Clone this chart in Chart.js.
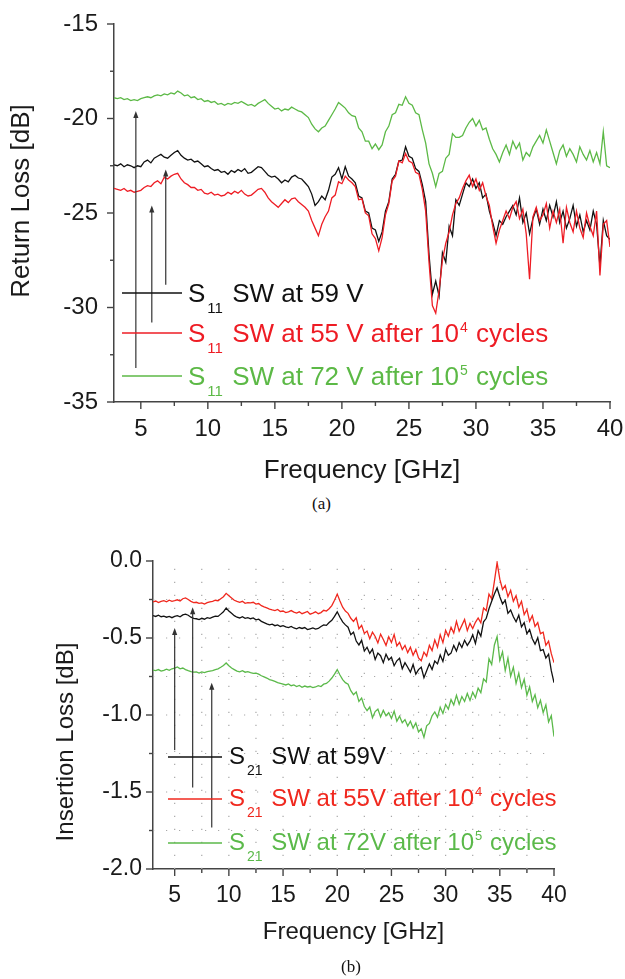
<!DOCTYPE html>
<html>
<head>
<meta charset="utf-8">
<script src="https://cdn.jsdelivr.net/npm/chart.js@4.4.0/dist/chart.umd.min.js"></script>
<style>
body { margin: 0; background: #fff; width: 625px; height: 979px; position: relative; overflow: hidden; }
.box { position: absolute; left: 0; width: 625px; }
#boxA { top: 0; height: 490px; }
#boxB { top: 520px; height: 440px; }
.cap { position: absolute; font-family: "Liberation Serif", "Times New Roman", serif; font-size: 17px; color: #111; }
</style>
</head>
<body>
<div class="box" id="boxA"><canvas id="chartA"></canvas></div>
<div class="cap" style="left:312px;top:494px">(a)</div>
<div class="box" id="boxB"><canvas id="chartB"></canvas></div>
<div class="cap" style="left:341px;top:957px">(b)</div>
<script>
//measured curves, sampled every 0.25 GHz from 3 GHz

var freqStart = 3, freqStep = 0.25;

// (a) return loss [dB]
var s11_59V = [
 -22.45,-22.50,-22.40,-22.55,-22.45,-22.50,-22.60,-22.50,
 -22.55,-22.30,-22.20,-22.35,-22.10,-22.00,-21.90,-22.05,
 -22.10,-21.95,-21.80,-21.70,-21.95,-22.10,-22.20,-22.15,
 -22.30,-22.25,-22.40,-22.55,-22.50,-22.65,-22.75,-22.70,
 -22.85,-22.80,-22.95,-22.75,-22.85,-22.70,-22.80,-22.65,
 -22.90,-22.85,-22.70,-22.55,-22.60,-22.80,-23.00,-23.10,
 -23.05,-23.20,-23.40,-23.25,-23.35,-23.10,-23.00,-23.15,
 -23.20,-23.40,-23.60,-24.00,-24.60,-24.40,-24.10,-24.30,
 -23.80,-23.10,-22.95,-22.60,-23.20,-22.55,-23.05,-23.20,
 -23.40,-24.10,-24.20,-24.90,-25.00,-25.80,-25.90,-26.50,
 -26.00,-24.90,-24.40,-23.20,-22.95,-22.25,-22.20,-21.50,
 -22.00,-22.10,-22.65,-22.80,-23.50,-24.40,-27.20,-29.30,
 -28.60,-29.40,-27.10,-27.60,-25.70,-26.20,-24.30,-24.60,
 -24.00,-23.40,-23.60,-23.20,-23.70,-23.40,-24.20,-24.00,
 -24.90,-25.50,-26.20,-25.40,-25.60,-25.20,-24.90,-24.60,
 -25.10,-24.20,-25.50,-25.00,-26.10,-25.30,-24.80,-25.60,
 -24.80,-25.40,-24.60,-25.20,-24.40,-25.50,-24.90,-25.80,
 -25.30,-24.60,-25.70,-25.10,-26.00,-25.40,-25.90,-24.90,
 -25.60,-27.80,-25.40,-26.20,-26.40
];
var s11_55V = [
 -23.70,-23.75,-23.80,-23.70,-23.85,-23.80,-23.90,-23.85,
 -23.80,-23.65,-23.55,-23.60,-23.40,-23.30,-23.45,-23.10,
 -23.20,-23.05,-22.95,-22.90,-23.20,-23.40,-23.50,-23.65,
 -23.65,-23.80,-23.75,-23.95,-24.00,-23.90,-24.05,-24.00,
 -24.10,-24.05,-23.90,-24.00,-23.85,-23.95,-23.80,-24.00,
 -24.10,-24.05,-23.90,-23.75,-23.70,-23.90,-24.20,-24.40,
 -24.55,-24.70,-24.50,-24.30,-24.45,-24.25,-24.20,-24.40,
 -24.55,-24.70,-24.90,-25.40,-25.80,-26.20,-25.60,-25.20,
 -24.90,-24.20,-24.05,-23.35,-23.45,-23.05,-23.25,-23.40,
 -23.60,-24.30,-24.25,-25.00,-25.15,-26.10,-26.35,-27.00,
 -26.30,-25.10,-24.50,-23.30,-23.05,-22.25,-22.35,-21.85,
 -22.25,-22.35,-22.85,-22.95,-23.75,-24.90,-27.60,-29.90,
 -30.30,-29.10,-27.50,-26.60,-26.00,-25.10,-24.50,-24.20,
 -23.70,-23.30,-23.00,-23.60,-23.20,-23.80,-23.40,-24.10,
 -24.60,-25.70,-26.60,-25.90,-25.40,-24.90,-25.30,-24.70,
 -24.40,-25.30,-24.80,-26.10,-28.50,-25.20,-24.70,-25.40,
 -25.10,-24.50,-25.80,-24.90,-25.50,-24.80,-26.60,-24.70,
 -25.50,-26.00,-24.90,-25.80,-26.30,-25.00,-25.70,-26.20,
 -24.90,-28.30,-25.60,-25.40,-26.80
];
var s11_72V = [
 -18.90,-18.95,-18.90,-19.00,-18.95,-19.05,-19.00,-19.05,
 -18.95,-18.90,-18.85,-18.90,-18.80,-18.75,-18.80,-18.70,
 -18.75,-18.65,-18.70,-18.55,-18.65,-18.80,-18.75,-18.90,
 -18.85,-19.00,-18.95,-19.10,-19.05,-19.15,-19.10,-19.25,
 -19.20,-19.30,-19.20,-19.25,-19.15,-19.20,-19.10,-19.20,
 -19.30,-19.25,-19.35,-19.20,-19.10,-19.00,-19.20,-19.35,
 -19.50,-19.45,-19.60,-19.50,-19.55,-19.40,-19.50,-19.60,
 -19.65,-19.80,-19.95,-20.30,-20.55,-20.70,-20.50,-20.40,
 -20.10,-19.80,-19.50,-19.15,-19.30,-19.45,-19.70,-19.85,
 -19.90,-20.50,-20.70,-21.20,-21.20,-21.60,-21.35,-21.65,
 -21.40,-20.70,-20.40,-19.80,-19.70,-19.25,-19.30,-18.85,
 -19.20,-19.30,-19.70,-19.80,-20.60,-21.30,-22.40,-22.90,
 -23.60,-22.90,-22.80,-22.10,-21.90,-20.80,-21.00,-21.00,
 -20.90,-20.50,-20.20,-20.00,-20.40,-20.10,-20.60,-20.50,
 -21.10,-21.60,-21.90,-22.30,-21.80,-21.40,-21.90,-21.20,
 -21.60,-21.30,-22.20,-21.80,-22.00,-21.50,-21.20,-20.90,
 -21.30,-20.60,-21.20,-21.80,-22.40,-21.70,-21.40,-22.00,
 -21.60,-21.90,-22.30,-21.50,-21.90,-22.20,-21.70,-22.30,
 -21.80,-22.40,-20.70,-22.50,-22.60
];

// (b) insertion loss [dB]
var s21_59V = [
 -0.355,-0.360,-0.352,-0.362,-0.358,-0.365,-0.360,-0.368,
 -0.360,-0.355,-0.362,-0.350,-0.345,-0.352,-0.365,-0.372,
 -0.375,-0.380,-0.372,-0.378,-0.368,-0.372,-0.365,-0.358,
 -0.360,-0.345,-0.330,-0.305,-0.325,-0.340,-0.355,-0.365,
 -0.370,-0.362,-0.372,-0.368,-0.375,-0.370,-0.382,-0.378,
 -0.392,-0.400,-0.408,-0.415,-0.410,-0.420,-0.415,-0.425,
 -0.420,-0.428,-0.432,-0.425,-0.435,-0.440,-0.432,-0.438,
 -0.432,-0.445,-0.440,-0.435,-0.442,-0.438,-0.425,-0.415,
 -0.418,-0.400,-0.385,-0.360,-0.330,-0.365,-0.395,-0.415,
 -0.430,-0.478,-0.462,-0.520,-0.545,-0.515,-0.585,-0.560,
 -0.600,-0.572,-0.640,-0.598,-0.615,-0.660,-0.605,-0.642,
 -0.625,-0.680,-0.648,-0.632,-0.700,-0.660,-0.690,-0.722,
 -0.672,-0.735,-0.705,-0.690,-0.758,-0.712,-0.668,-0.705,
 -0.650,-0.668,-0.610,-0.652,-0.575,-0.612,-0.598,-0.548,
 -0.585,-0.530,-0.562,-0.515,-0.548,-0.520,-0.480,-0.535,
 -0.452,-0.488,-0.395,-0.372,-0.310,-0.262,-0.215,-0.175,
 -0.232,-0.278,-0.255,-0.340,-0.318,-0.362,-0.395,-0.352,
 -0.428,-0.400,-0.472,-0.445,-0.505,-0.540,-0.498,-0.582,
 -0.575,-0.630,-0.605,-0.712,-0.790
];
var s21_55V = [
 -0.265,-0.260,-0.270,-0.262,-0.258,-0.265,-0.255,-0.262,
 -0.258,-0.252,-0.260,-0.245,-0.240,-0.250,-0.262,-0.270,
 -0.268,-0.275,-0.272,-0.280,-0.270,-0.265,-0.262,-0.255,
 -0.258,-0.245,-0.232,-0.210,-0.225,-0.240,-0.255,-0.262,
 -0.268,-0.262,-0.275,-0.270,-0.272,-0.268,-0.280,-0.276,
 -0.290,-0.298,-0.305,-0.312,-0.318,-0.322,-0.315,-0.328,
 -0.325,-0.335,-0.330,-0.322,-0.332,-0.338,-0.330,-0.342,
 -0.335,-0.328,-0.345,-0.338,-0.330,-0.342,-0.335,-0.320,
 -0.325,-0.310,-0.290,-0.255,-0.215,-0.260,-0.300,-0.325,
 -0.340,-0.372,-0.392,-0.368,-0.440,-0.418,-0.470,-0.455,
 -0.505,-0.462,-0.490,-0.532,-0.475,-0.510,-0.548,-0.492,
 -0.530,-0.478,-0.552,-0.528,-0.575,-0.548,-0.595,-0.560,
 -0.612,-0.575,-0.630,-0.648,-0.592,-0.618,-0.548,-0.582,
 -0.512,-0.560,-0.478,-0.530,-0.450,-0.488,-0.430,-0.468,
 -0.392,-0.455,-0.418,-0.380,-0.452,-0.405,-0.438,-0.398,
 -0.370,-0.402,-0.305,-0.322,-0.215,-0.245,-0.132,-0.010,
 -0.118,-0.185,-0.160,-0.232,-0.190,-0.262,-0.225,-0.300,
 -0.262,-0.348,-0.315,-0.392,-0.355,-0.425,-0.400,-0.472,
 -0.462,-0.548,-0.520,-0.602,-0.660
];
var s21_72V = [
 -0.708,-0.712,-0.705,-0.715,-0.710,-0.702,-0.710,-0.700,
 -0.695,-0.688,-0.700,-0.695,-0.705,-0.712,-0.718,-0.722,
 -0.720,-0.728,-0.720,-0.725,-0.718,-0.715,-0.712,-0.705,
 -0.700,-0.690,-0.678,-0.662,-0.680,-0.695,-0.705,-0.715,
 -0.720,-0.712,-0.722,-0.718,-0.725,-0.730,-0.728,-0.735,
 -0.745,-0.752,-0.760,-0.770,-0.775,-0.782,-0.790,-0.795,
 -0.800,-0.805,-0.798,-0.810,-0.805,-0.815,-0.808,-0.820,
 -0.812,-0.818,-0.815,-0.822,-0.818,-0.810,-0.815,-0.800,
 -0.795,-0.780,-0.760,-0.735,-0.705,-0.740,-0.770,-0.790,
 -0.800,-0.842,-0.868,-0.850,-0.912,-0.890,-0.945,-0.972,
 -0.948,-1.018,-0.978,-0.962,-1.012,-0.970,-1.005,-0.985,
 -1.022,-0.975,-1.040,-1.008,-1.050,-1.030,-1.072,-1.040,
 -1.085,-1.052,-1.110,-1.090,-1.145,-1.070,-1.055,-1.005,
 -0.980,-1.015,-0.950,-0.990,-0.932,-0.962,-0.900,-0.935,
 -0.872,-0.930,-0.880,-0.912,-0.860,-0.905,-0.852,-0.888,
 -0.825,-0.855,-0.765,-0.785,-0.635,-0.672,-0.545,-0.490,
 -0.645,-0.590,-0.712,-0.630,-0.748,-0.690,-0.795,-0.728,
 -0.822,-0.768,-0.872,-0.818,-0.912,-0.868,-0.952,-0.905,
 -0.985,-0.935,-1.045,-1.005,-1.140
];

// axis ticks (major labelled, minor in between)
var freqTicks = [5, 10, 15, 20, 25, 30, 35, 40];
var rlTicks = [-35, -30, -25, -20, -15];
var ilTicks = [-2.0, -1.5, -1.0, -0.5, 0.0];

// arrows: [freq, from, to]
var arrowsA = [[4.63, -33.2, -19.6], [5.82, -30.8, -24.6], [6.86, -28.8, -22.7]];
var arrowsB = [[5.0, -1.227, -0.435], [6.66, -1.47, -0.30], [8.42, -1.73, -0.79]];

// legend entries: [text, kind]
var legendA = [
  [['S', ''], ['11', 'sub'], [' SW at 59 V', '']],
  [['S', ''], ['11', 'sub'], [' SW at 55 V after 10', ''], ['4', 'sup'], [' cycles', '']],
  [['S', ''], ['11', 'sub'], [' SW at 72 V after 10', ''], ['5', 'sup'], [' cycles', '']]
];
var legendB = [
  [['S', ''], ['21', 'sub'], [' SW at 59V', '']],
  [['S', ''], ['21', 'sub'], [' SW at 55V after 10', ''], ['4', 'sup'], [' cycles', '']],
  [['S', ''], ['21', 'sub'], [' SW at 72V after 10', ''], ['5', 'sup'], [' cycles', '']]
];

var freq = s11_59V.map(function (v, i) { return freqStart + i * freqStep; });
function pts(arr) { return arr.map(function (v, i) { return { x: freq[i], y: v }; }); }

function isMajor(v, step) { var q = v / step; return Math.abs(q - Math.round(q)) < 1e-6; }

// majors plus the half-way minors
function withMinors(major, lo) {
  var out = [];
  var half = (major[1] - major[0]) / 2;
  if (major[0] - half >= lo) out.push(major[0] - half);
  major.forEach(function (v, i) {
    out.push(v);
    if (i < major.length - 1) out.push(v + half);
  });
  return out;
}

var FONT = '"Liberation Sans", Arial, sans-serif';

// tick marks, dotted grid, arrows, y title and the legend
var decor = {
  id: 'decor',
  beforeDatasetsDraw: function (chart, args, o) {
    if (!o.grid) return;
    var ctx = chart.ctx, a = chart.chartArea, xs = chart.scales.x, ys = chart.scales.y;
    ctx.save();
    ctx.strokeStyle = '#a8a8a8';
    ctx.lineWidth = 1.2;
    ctx.setLineDash([1.2, 11.8]);
    xs.ticks.forEach(function (t) {
      var p = xs.getPixelForValue(t.value);
      if (p <= a.left + 1 || p >= a.right - 1) return;
      ctx.beginPath(); ctx.moveTo(p, a.bottom); ctx.lineTo(p, a.top); ctx.stroke();
    });
    ys.ticks.forEach(function (t) {
      var p = ys.getPixelForValue(t.value);
      if (p <= a.top + 1 || p >= a.bottom - 1) return;
      ctx.beginPath(); ctx.moveTo(a.left, p); ctx.lineTo(a.right, p); ctx.stroke();
    });
    ctx.restore();
  },
  afterDraw: function (chart, args, o) {
    var ctx = chart.ctx, a = chart.chartArea, xs = chart.scales.x, ys = chart.scales.y;
    ctx.save();
    ctx.strokeStyle = '#444';
    ctx.lineWidth = 1.4;
    xs.ticks.forEach(function (t) {
      var p = xs.getPixelForValue(t.value);
      var len = isMajor(t.value, o.xMajor) ? 7 : 4;
      ctx.beginPath(); ctx.moveTo(p, a.bottom); ctx.lineTo(p, a.bottom + len); ctx.stroke();
    });
    ys.ticks.forEach(function (t) {
      var p = ys.getPixelForValue(t.value);
      var len = isMajor(t.value, o.yMajor) ? 7 : 4;
      ctx.beginPath(); ctx.moveTo(a.left, p); ctx.lineTo(a.left - len, p); ctx.stroke();
    });

    // y axis title
    ctx.save();
    ctx.translate(o.yTitle.x, o.yTitle.y);
    ctx.rotate(-Math.PI / 2);
    ctx.fillStyle = '#1a1a1a';
    ctx.font = o.yTitle.size + 'px ' + FONT;
    ctx.textAlign = 'center';
    ctx.textBaseline = 'middle';
    ctx.fillText(o.yTitle.text, 0, 0);
    ctx.restore();

    // arrows
    ctx.strokeStyle = '#333';
    ctx.fillStyle = '#333';
    ctx.lineWidth = 1.2;
    o.arrows.forEach(function (ar) {
      var x = xs.getPixelForValue(ar[0]);
      var y0 = ys.getPixelForValue(ar[1]);
      var y1 = ys.getPixelForValue(ar[2]);
      ctx.beginPath(); ctx.moveTo(x, y0); ctx.lineTo(x, y1 + 5); ctx.stroke();
      ctx.beginPath(); ctx.moveTo(x, y1); ctx.lineTo(x - 2.6, y1 + 7); ctx.lineTo(x + 2.6, y1 + 7); ctx.closePath(); ctx.fill();
    });

    // legend
    var L = o.legend;
    L.rows.forEach(function (row, i) {
      var y = L.y[i];
      ctx.strokeStyle = L.colors[i];
      ctx.lineWidth = 1.5;
      ctx.beginPath(); ctx.moveTo(L.x0, y); ctx.lineTo(L.x1, y); ctx.stroke();
      var x = L.tx;
      ctx.fillStyle = L.colors[i];
      ctx.textAlign = 'left';
      ctx.textBaseline = 'alphabetic';
      row.forEach(function (part) {
        var txt = part[0], kind = part[1];
        var size = L.size, dy = L.base, gap = 0;
        if (kind === 'sub') { size = L.small; dy = L.subBase; x += 2; gap = 2; }
        if (kind === 'sup') { size = L.small - 1; dy = L.supBase; x += 1; gap = 1; }
        ctx.font = size + 'px ' + FONT;
        ctx.fillText(txt, x, y + dy);
        x += ctx.measureText(txt).width + gap;
      });
    });
    ctx.restore();
  }
};

function makeChart(id, cfg) {
  var ctx = document.getElementById(id).getContext('2d');
  return new Chart(ctx, {
    type: 'line',
    data: {
      datasets: cfg.series.map(function (s) {
        return { data: pts(s.data), borderColor: s.color, borderWidth: 1.3, pointRadius: 0, fill: false, tension: 0, order: s.order };
      })
    },
    options: {
      responsive: true,
      maintainAspectRatio: false,
      animation: false,
      parsing: false,
      events: [],
      layout: { padding: cfg.padding },
      plugins: {
        legend: { display: false },
        tooltip: { enabled: false },
        decor: cfg.decor
      },
      scales: {
        x: {
          type: 'linear',
          min: 3, max: 40,
          afterBuildTicks: function (s) { s.ticks = withMinors(freqTicks, 3).map(function (v) { return { value: v }; }); },
          afterFit: function (s) { s.height = cfg.xHeight; },
          grid: { display: true, drawOnChartArea: false, drawTicks: false },
          border: { display: true, color: '#444', width: 1.5 },
          ticks: {
            autoSkip: false, maxRotation: 0, padding: 1, color: '#1a1a1a',
            font: { family: FONT, size: cfg.tickSize, lineHeight: cfg.xLabelLH },
            callback: function (v) { return isMajor(v, 5) ? String(v) : ''; }
          },
          title: {
            display: true, text: 'Frequency [GHz]', color: '#1a1a1a',
            font: { family: FONT, size: cfg.titleSize }, padding: { top: 0, bottom: cfg.xTitlePad }
          }
        },
        y: {
          type: 'linear',
          min: cfg.yTicks[0], max: cfg.yTicks[cfg.yTicks.length - 1],
          afterBuildTicks: function (s) { s.ticks = withMinors(cfg.yTicks, cfg.yTicks[0]).map(function (v) { return { value: v }; }); },
          afterFit: function (s) { s.width = cfg.yWidth; },
          grid: { display: true, drawOnChartArea: false, drawTicks: false },
          border: { display: true, color: '#444', width: 1.5 },
          ticks: {
            autoSkip: false, padding: cfg.yPad, color: '#1a1a1a',
            font: { family: FONT, size: cfg.tickSize, lineHeight: 0.6 },
            callback: cfg.yLabel
          },
          title: { display: false }
        }
      }
    },
    plugins: [decor]
  });
}

window.onload = function () {
  makeChart('chartA', {
    series: [
      { data: s11_72V, color: '#5cb946', order: 2 },
      { data: s11_59V, color: '#111111', order: 1 },
      { data: s11_55V, color: '#ee1c24', order: 0 }
    ],
    padding: { top: 24, right: 15, left: 0, bottom: 0 },
    xHeight: 88, yWidth: 114, yPad: 16, tickSize: 24, titleSize: 26, xLabelLH: 2.2,
    xTitlePad: 4,
    yTicks: rlTicks,
    yLabel: function (v) { return isMajor(v, 5) ? String(v) : ''; },
    decor: {
      grid: false, xMajor: 5, yMajor: 5, arrows: arrowsA,
      yTitle: { text: 'Return Loss [dB]', x: 22, y: 201, size: 26 },
      legend: {
        rows: legendA, colors: ['#111111', '#ee1c24', '#5cb946'],
        y: [293, 333, 376], x0: 122, x1: 182, tx: 188,
        size: 26, small: 15, base: 9, subBase: 20, supBase: -1
      }
    }
  });

  makeChart('chartB', {
    series: [
      { data: s21_72V, color: '#5bb94a', order: 2 },
      { data: s21_59V, color: '#111111', order: 0 },
      { data: s21_55V, color: '#f0281e', order: 1 }
    ],
    padding: { top: 41, right: 71, left: 0, bottom: 0 },
    xHeight: 91, yWidth: 153, yPad: 11, tickSize: 23, titleSize: 24, xLabelLH: 2.2,
    xTitlePad: 13,
    yTicks: ilTicks,
    yLabel: function (v) { return isMajor(v, 0.5) ? v.toFixed(1) : ''; },
    decor: {
      grid: true, xMajor: 5, yMajor: 0.5, arrows: arrowsB,
      yTitle: { text: 'Insertion Loss [dB]', x: 66, y: 222, size: 24 },
      legend: {
        rows: legendB, colors: ['#111111', '#f0281e', '#5bb94a'],
        y: [237, 279, 323], x0: 168, x1: 222, tx: 229,
        size: 24, small: 14, base: 7, subBase: 18, supBase: -3
      }
    }
  });
};
</script>
</body>
</html>
